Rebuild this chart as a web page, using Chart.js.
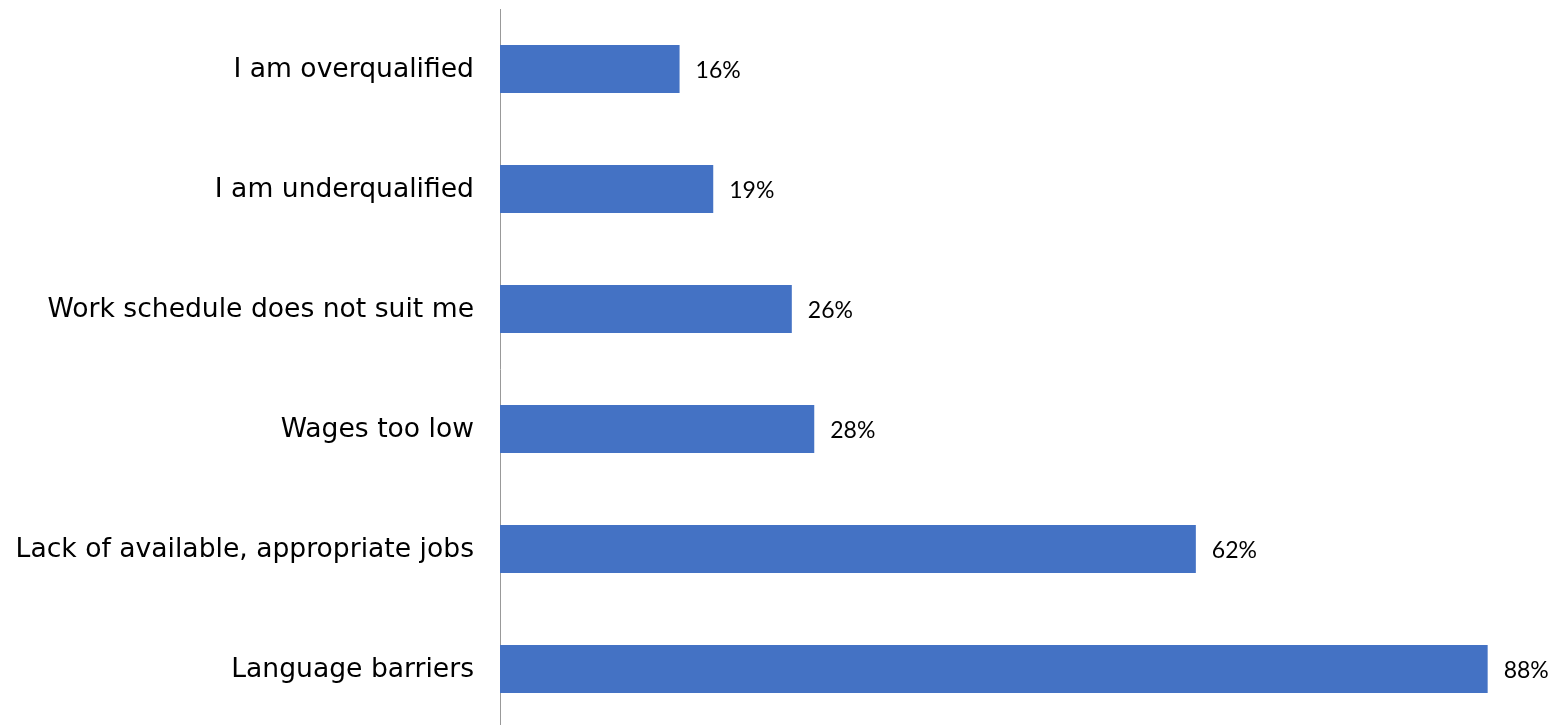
<!DOCTYPE html>
<html>
<head>
<meta charset="utf-8">
<script src="https://cdn.jsdelivr.net/npm/chart.js@4"></script>
<style>
  html, body { margin: 0; padding: 0; background: #fff; overflow: hidden; }
  #wrap { width: 1559px; height: 730px; }
</style>
</head>
<body>
<div id="wrap"><canvas id="chart" width="1559" height="730"></canvas></div>
<script>
// reasons, top to bottom
const reasons = [
  'I am overqualified',
  'I am underqualified',
  'Work schedule does not suit me',
  'Wages too low',
  'Lack of available, appropriate jobs',
  'Language barriers'
];
const shares = [16, 19, 26, 28, 62, 88];

// draws "NN%" just past the end of each bar
const valueLabels = {
  id: 'valueLabels',
  afterDatasetsDraw(chart) {
    const ctx = chart.ctx;
    const meta = chart.getDatasetMeta(0);
    ctx.save();
    ctx.font = '23px Lato, "Open Sans", sans-serif';
    ctx.fillStyle = '#000';
    ctx.textAlign = 'left';
    ctx.textBaseline = 'alphabetic';
    meta.data.forEach((bar, i) => {
      ctx.fillText(shares[i] + '%', bar.x + 16, bar.y + 9);
    });
    ctx.restore();
  }
};

new Chart(document.getElementById('chart'), {
  type: 'bar',
  data: {
    labels: reasons,
    datasets: [{
      data: shares,
      backgroundColor: '#4472C4',
      borderWidth: 0,
      categoryPercentage: 1,
      barPercentage: 0.4
    }]
  },
  options: {
    indexAxis: 'y',
    responsive: false,
    animation: false,
    layout: { padding: { top: 9, right: 4, bottom: 1, left: 0 } },
    plugins: {
      legend: { display: false },
      tooltip: { enabled: false }
    },
    scales: {
      x: {
        display: false,
        min: 0,
        max: 94
      },
      y: {
        // fixed label column, and no extra room above/below the bars
        afterFit(scale) {
          scale.width = 500;
          scale.paddingTop = 0;
          scale.paddingBottom = 0;
        },
        grid: { display: false, drawTicks: false },
        border: { display: true, color: '#999999', width: 1 },
        ticks: {
          color: '#000',
          padding: 26,
          labelOffset: 1,
          font: { family: '"DejaVu Sans", Verdana, sans-serif', size: 26.6 }
        }
      }
    }
  },
  plugins: [valueLabels]
});
</script>
</body>
</html>
